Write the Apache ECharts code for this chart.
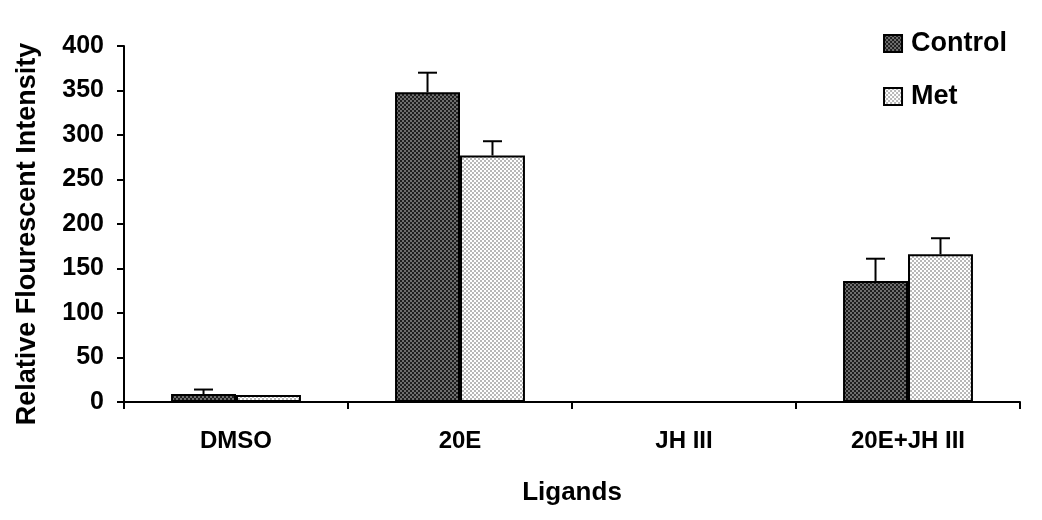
<!DOCTYPE html>
<html>
<head>
<meta charset="utf-8">
<script src="https://cdn.jsdelivr.net/npm/echarts@6/dist/echarts.min.js"></script>
<style>
  html, body { margin: 0; padding: 0; background: #fff; }
  #chart { width: 1042px; height: 520px; }
</style>
</head>
<body>
<div id="chart"></div>
<script>
var categories = ['DMSO', '20E', 'JH III', '20E+JH III'];
var controlValues = [9, 348, null, 136];
var controlErrors = [5, 22, null, 25];
var metValues = [8, 277, null, 166];
var metErrors = [0, 16, null, 18];
var yTicks = [0, 50, 100, 150, 200, 250, 300, 350, 400];

// small checker textures, like the old excel fills
var makePattern = function (dark, light) {
    var c = document.createElement('canvas');
    c.width = 4;
    c.height = 4;
    var ctx = c.getContext('2d');
    ctx.fillStyle = light;
    ctx.fillRect(0, 0, 4, 4);
    ctx.fillStyle = dark;
    ctx.fillRect(0, 0, 2, 2);
    ctx.fillRect(2, 2, 2, 2);
    return c;
};
var controlFill = {image: makePattern('#1e1e1e', '#6e6e6e'), repeat: 'repeat'};
var metFill = {image: makePattern('#b8b8b8', '#ffffff'), repeat: 'repeat'};

var font = 'Liberation Sans, Arial, sans-serif';

var errorSeries = function (name, values, errors, barIndex) {
    var data = [];
    for (var i = 0; i < values.length; i++) {
        if (values[i] != null && errors[i] != null && errors[i] > 0) {
            data.push([i, values[i], values[i] + errors[i]]);
        }
    }
    return {
        name: name + ' err',
        type: 'custom',
        z: 5,
        data: data,
        renderItem: function (params, api) {
            var idx = api.value(0);
            var base = api.coord([idx, api.value(1)]);
            var top = api.coord([idx, api.value(2)]);
            var bandW = api.size([1, 0])[0];
            var barW = bandW * 0.29;
            var x = base[0] + (barIndex === 0 ? -barW / 2 : barW / 2);
            var half = 9.5;
            var style = {stroke: '#000', lineWidth: 2};
            return {
                type: 'group',
                children: [
                    {type: 'line', shape: {x1: x, y1: base[1], x2: x, y2: top[1]}, style: style},
                    {type: 'line', shape: {x1: x - half, y1: top[1], x2: x + half, y2: top[1]}, style: style}
                ]
            };
        }
    };
};

var option = {
    animation: false,
    backgroundColor: '#fff',
    grid: {left: 124, right: 22, top: 46, bottom: 118},
    legend: {
        orient: 'vertical',
        right: 30,
        top: 25,
        itemGap: 26,
        itemWidth: 18,
        itemHeight: 17,
        icon: 'rect',
        textStyle: {fontFamily: font, fontWeight: 'bold', fontSize: 27, color: '#000', padding: [0, 0, 0, 4]},
        data: ['Control', 'Met']
    },
    graphic: [{
        type: 'text',
        x: 28,
        y: 234,
        rotation: Math.PI / 2,
        style: {
            text: 'Relative Flourescent Intensity',
            fontFamily: font, fontWeight: 'bold', fontSize: 27, fill: '#000',
            align: 'center', verticalAlign: 'middle'
        }
    }],
    xAxis: {
        type: 'category',
        data: categories,
        name: 'Ligands',
        nameLocation: 'middle',
        nameGap: 78,
        nameTextStyle: {fontFamily: font, fontWeight: 'bold', fontSize: 26, color: '#000'},
        axisLine: {lineStyle: {color: '#000', width: 2}},
        axisTick: {show: true, length: 7, lineStyle: {color: '#000', width: 2}},
        axisLabel: {fontFamily: font, fontWeight: 'bold', fontSize: 24, color: '#000', margin: 27}
    },
    yAxis: {
        type: 'value',
        min: 0,
        max: 400,
        interval: 50,
        splitLine: {show: false},
        axisLine: {show: true, lineStyle: {color: '#000', width: 2}},
        axisTick: {show: true, length: 7, lineStyle: {color: '#000', width: 2}},
        axisLabel: {
            fontFamily: font, fontWeight: 'bold', fontSize: 25, color: '#000', margin: 20,
            formatter: function (v) { return yTicks.indexOf(v) >= 0 ? String(v) : ''; }
        }
    },
    series: [
        {
            name: 'Control',
            type: 'bar',
            data: controlValues,
            barWidth: '29%',
            barGap: '0%',
            itemStyle: {color: controlFill, borderColor: '#000', borderWidth: 2}
        },
        {
            name: 'Met',
            type: 'bar',
            data: metValues,
            barWidth: '29%',
            barGap: '0%',
            itemStyle: {color: metFill, borderColor: '#000', borderWidth: 2}
        },
        errorSeries('Control', controlValues, controlErrors, 0),
        errorSeries('Met', metValues, metErrors, 1)
    ]
};

var myChart = echarts.init(document.getElementById('chart'));
myChart.setOption(option);
</script>
</body>
</html>
